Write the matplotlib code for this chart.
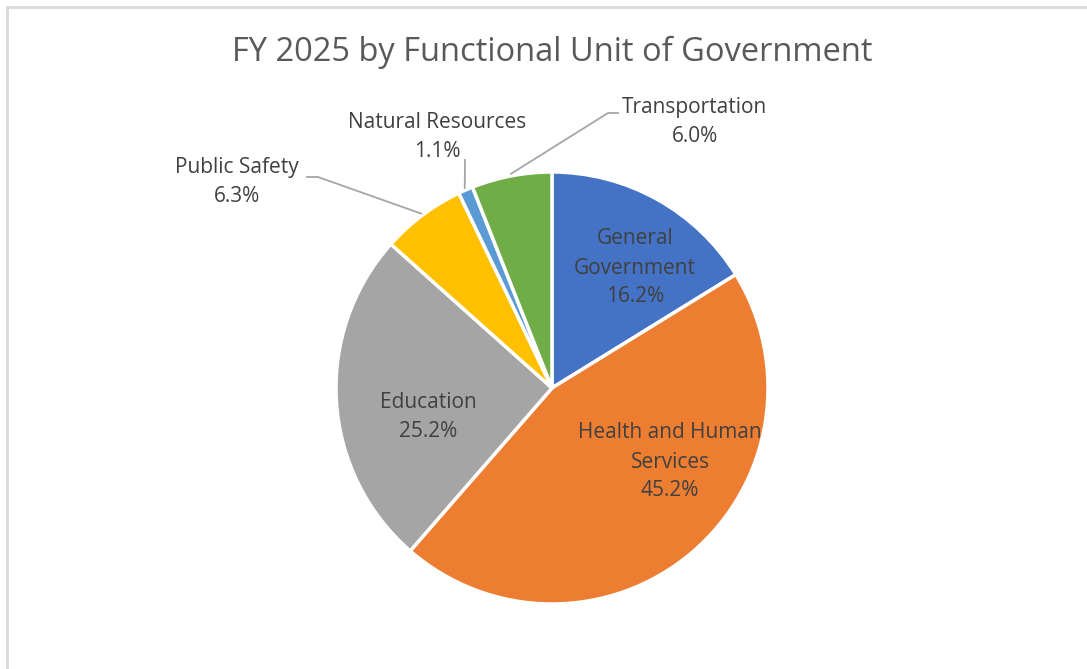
import numpy as np
import matplotlib.pyplot as plt
from matplotlib.lines import Line2D

plt.rcParams['font.family'] = ['Open Sans', 'DejaVu Sans']

categories = ['General Government', 'Health and Human Services', 'Education',
              'Public Safety', 'Natural Resources', 'Transportation']
shares = [16.2, 45.2, 25.2, 6.3, 1.1, 6.0]
label_text = ['General\nGovernment', 'Health and Human\nServices', 'Education',
              'Public Safety', 'Natural Resources', 'Transportation']
colors = ['#4472C4', '#ED7D31', '#A5A5A5', '#FFC000', '#5B9BD5', '#70AD47']

W, H = 1087, 669
fig = plt.figure(figsize=(W / 100, H / 100), dpi=100)
fig.patch.set_facecolor('white')

# pie center / radius in pixels
cx, cy, R = 552, 388, 216
ax = fig.add_axes([(cx - R) / W, (H - cy - R) / H, 2 * R / W, 2 * R / H])
wedges, _ = ax.pie(shares, colors=colors, startangle=90, counterclock=False,
                   radius=1.0, wedgeprops=dict(edgecolor='white', linewidth=2.5))
ax.set_xlim(-1, 1)
ax.set_ylim(-1, 1)
ax.axis('off')

def px(x, y):
    return ((x - cx) / R, (cy - y) / R)

txt_color = '#404040'
fs = 15
lsp = 1.5

# labels inside the big slices
inside = {0: (635, 268), 1: (670, 462), 2: (428, 417)}
for i, (x, y) in inside.items():
    ax.text(*px(x, y), f"{label_text[i]}\n{shares[i]:.1f}%", ha='center', va='center',
            fontsize=fs, color=txt_color, linespacing=lsp)

# outside labels with leader lines
outside = {
    3: dict(text=(237, 182), path=[(307, 177), (318, 177)]),
    4: dict(text=(437, 137), path=[(465, 160)]),
    5: dict(text=(695, 122), path=[(618, 113), (608, 113)]),
}
for i, o in outside.items():
    ax.text(*px(*o['text']), f"{label_text[i]}\n{shares[i]:.1f}%", ha='center', va='center',
            fontsize=fs, color=txt_color, linespacing=lsp, clip_on=False)
    w = wedges[i]
    ang = np.deg2rad((w.theta1 + w.theta2) / 2)
    end = (1.01 * np.cos(ang), 1.01 * np.sin(ang))
    pts = [px(*p) for p in o['path']] + [end]
    xs, ys = zip(*pts)
    ax.add_line(Line2D(xs, ys, color='#A6A6A6', linewidth=1.3, clip_on=False))

fig.text(552 / W, 1 - 52 / H, 'FY 2025 by Functional Unit of Government', ha='center', va='center',
         fontsize=23.5, color='#595959')

# frame lines (left and top)
fig.add_artist(Line2D([6.5 / W, 6.5 / W], [0, 1 - 7 / H], transform=fig.transFigure,
                      color='#D9D9D9', linewidth=2))
fig.add_artist(Line2D([6.5 / W, 1], [1 - 7 / H, 1 - 7 / H], transform=fig.transFigure,
                      color='#D9D9D9', linewidth=2))

fig.savefig('out.png', dpi=100, facecolor='white')
